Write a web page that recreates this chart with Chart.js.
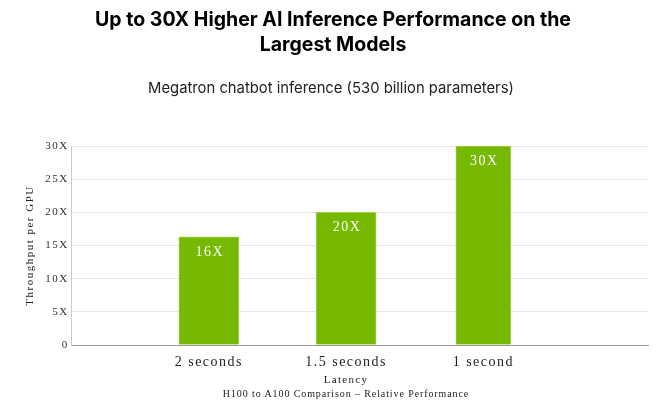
<!DOCTYPE html>
<html>
<head>
<meta charset="utf-8">
<script src="https://cdn.jsdelivr.net/npm/chart.js@4.4.1/dist/chart.umd.min.js"></script>
<style>
  html, body { margin: 0; padding: 0; background: #fff; }
  #wrap { position: relative; width: 662px; height: 407px; overflow: hidden; }
  #chart { position: absolute; left: 0; top: 0; }
  .t1 { position: absolute; left: 2px; width: 662px; text-align: center; font-family: Inter, "Noto Sans", sans-serif; font-weight: 700; font-size: 19.5px; line-height: 25px; color: #000; top: 7px; }
  .t2 { position: absolute; left: 0; width: 662px; text-align: center; font-family: Inter, "Noto Sans", sans-serif; font-weight: 400; font-size: 14.8px; color: #222; top: 79px; }
  .xt { position: absolute; left: 246px; width: 200px; text-align: center; font-family: "Liberation Serif", serif; font-size: 11px; letter-spacing: 1.3px; color: #222; top: 373px; }
  .foot { position: absolute; left: 146px; width: 400px; text-align: center; font-family: "Liberation Serif", serif; font-size: 10px; letter-spacing: 0.9px; color: #222; top: 388px; }
</style>
</head>
<body>
<div id="wrap">
  <canvas id="chart" width="662" height="407"></canvas>
  <div class="t1">Up to 30X Higher AI Inference Performance on the<br>Largest Models</div>
  <div class="t2">Megatron chatbot inference (530 billion parameters)</div>
  <div class="xt">Latency</div>
  <div class="foot">H100 to A100 Comparison – Relative Performance</div>
</div>
<script>
const categories = ['2 seconds', '1.5 seconds', '1 second'];
const positions = [1, 2, 3];
const values = [16.3, 20, 30];
const valueLabels = ['16X', '20X', '30X'];
const yTicks = [0, 5, 10, 15, 20, 25, 30];
const yTickLabels = ['0', '5X', '10X', '15X', '20X', '25X', '30X'];

const SERIF = '"Liberation Serif", "Times New Roman", serif';

const spacingPlugin = {
  id: 'spacing',
  beforeDraw(chart) { chart.ctx.letterSpacing = '1.5px'; },
  beforeUpdate(chart) { chart.ctx.letterSpacing = '1.5px'; }
};

const barLabelPlugin = {
  id: 'barLabels',
  afterDatasetsDraw(chart) {
    const ctx = chart.ctx;
    ctx.save();
    ctx.letterSpacing = '1.5px';
    ctx.font = '14px ' + SERIF;
    ctx.fillStyle = '#ffffff';
    ctx.textAlign = 'center';
    ctx.textBaseline = 'middle';
    chart.data.datasets.forEach((ds, di) => {
      const meta = chart.getDatasetMeta(di);
      meta.data.forEach((el, i) => {
        ctx.fillText(ds.valueLabels[i], el.x + 1, el.y + 15);
      });
    });
    ctx.restore();
  }
};

const pts = positions.map((p, i) => ({ x: p, y: values[i] }));

new Chart(document.getElementById('chart'), {
  type: 'bar',
  data: {
    datasets: [
      {
        data: pts.slice(0, 2),
        valueLabels: valueLabels.slice(0, 2),
        backgroundColor: '#76b900',
        borderColor: '#9fd14a',
        borderWidth: { top: 1, left: 1, right: 1, bottom: 0 },
        barThickness: 60,
        grouped: false
      },
      {
        data: pts.slice(2),
        valueLabels: valueLabels.slice(2),
        backgroundColor: '#76b900',
        borderColor: '#9fd14a',
        borderWidth: { top: 1, left: 1, right: 1, bottom: 0 },
        barThickness: 55,
        grouped: false
      }
    ]
  },
  options: {
    responsive: false,
    animation: false,
    events: [],
    layout: { padding: { top: 146, left: 24, right: 14, bottom: 28 } },
    plugins: {
      legend: { display: false },
      tooltip: { enabled: false },
      title: { display: false }
    },
    scales: {
      x: {
        type: 'linear',
        offset: false,
        min: 0,
        max: 4.2,
        afterBuildTicks(scale) {
          scale.ticks = positions.map(v => ({ value: v }));
        },
        ticks: {
          autoSkip: false,
          maxRotation: 0,
          color: '#222',
          font: { family: SERIF, size: 14, lineHeight: 1 },
          padding: 10,
          callback: (v) => categories[positions.indexOf(v)] ?? ''
        },
        grid: { display: false, drawTicks: false, offset: false },
        border: { display: true, color: '#999999', width: 1 },
        title: { display: false }
      },
      y: {
        min: 0,
        max: 30,
        afterBuildTicks(scale) {
          scale.ticks = yTicks.map(v => ({ value: v }));
        },
        ticks: {
          color: '#333',
          font: { family: SERIF, size: 11 },
          padding: 3,
          callback: (v) => yTickLabels[yTicks.indexOf(v)] ?? ''
        },
        grid: { color: '#e6e6e6', lineWidth: 1, drawTicks: false },
        border: { display: true, color: '#cccccc', width: 1 },
        title: {
          display: true,
          text: 'Throughput per GPU',
          color: '#222',
          font: { family: SERIF, size: 11 },
          padding: { top: 0, bottom: 5 }
        }
      }
    }
  },
  plugins: [spacingPlugin, barLabelPlugin]
});
</script>
</body>
</html>
